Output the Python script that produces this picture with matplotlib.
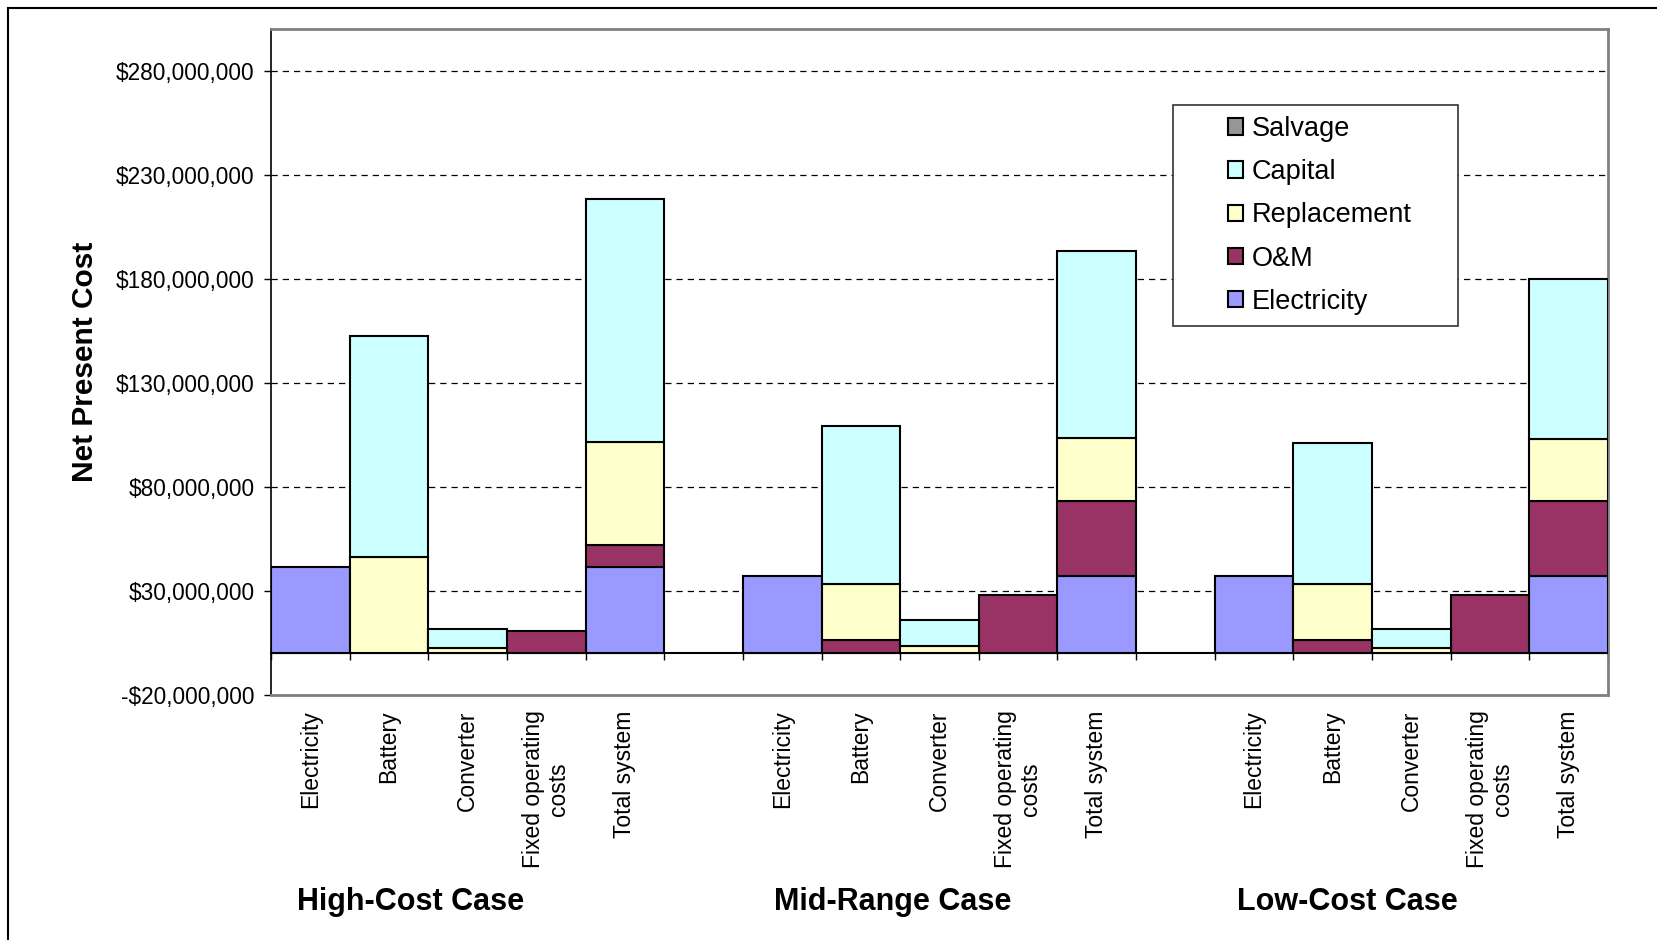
import matplotlib
matplotlib.use('Agg')
import matplotlib.pyplot as plt
from matplotlib.patches import Patch, Rectangle
from matplotlib.ticker import FuncFormatter
import numpy as np

plt.rcParams['font.family'] = ['Liberation Sans', 'DejaVu Sans']

# categorieen en cases
items = ['Electricity', 'Battery', 'Converter', 'Fixed operating\ncosts', 'Total system']
cases = ['High-Cost Case', 'Mid-Range Case', 'Low-Cost Case']

# waarden in miljoen dollar, per case: Electricity, Battery, Converter, Fixed, Total
electricity = [41.3, 0, 0, 0, 41.3,   37.1, 0, 0, 0, 37.1,   37.1, 0, 0, 0, 37.1]
om          = [0, 0, 0, 10.8, 11.0,   0, 6.6, 0, 28.1, 36.3,  0, 6.6, 0, 28.1, 36.3]
replacement = [0, 46.2, 2.6, 0, 49.4, 0, 26.5, 3.7, 0, 30.2,  0, 26.5, 2.4, 0, 29.4]
capital     = [0, 106.3, 9.1, 0, 116.8, 0, 76.1, 12.2, 0, 89.6, 0, 67.8, 9.3, 0, 77.1]
salvage     = [0] * 15

series = [('Electricity', electricity, '#9999FF'),
          ('O&M', om, '#993366'),
          ('Replacement', replacement, '#FFFFCC'),
          ('Capital', capital, '#CCFFFF'),
          ('Salvage', salvage, '#969696')]

yticks = [-20e6, 30e6, 80e6, 130e6, 180e6, 230e6, 280e6]
ylim = (-20e6, 300e6)

# posities: een lege plek tussen de cases
pos = []
labels = []
for c in range(len(cases)):
  for j in range(len(items)):
    pos.append(c * (len(items) + 1) + j)
    labels.append(items[j])
pos = np.array(pos)

W, H = 1658, 940
fig = plt.figure(figsize=(W / 100, H / 100), dpi=100)
ax = fig.add_axes([271 / W, 1 - 695 / H, (1608 - 271) / W, (695 - 29) / H])

bottom = np.zeros(len(pos))
for naam, waarden, kleur in series:
  waarden = np.array(waarden, dtype=float) * 1e6
  m = waarden != 0
  if m.any():
    ax.bar(pos[m], waarden[m], bottom=bottom[m], width=1.0, color=kleur,
           edgecolor='black', linewidth=1.5, zorder=3)
  bottom += waarden

ax.set_xlim(pos[0] - 0.5, pos[-1] + 0.5)
ax.set_ylim(*ylim)
ax.set_yticks(yticks)

def dollars(v, p):
  s = '${:,.0f}'.format(abs(v))
  return '-' + s if v < 0 else s

ax.yaxis.set_major_formatter(FuncFormatter(dollars))
ax.tick_params(axis='y', length=5, width=1, direction='out', pad=7, labelsize=16.3)
ax.yaxis.grid(True, linestyle=(0, (5, 4)), color='black', linewidth=0.9)
ax.set_axisbelow(True)

ax.set_xticks(pos)
ax.set_xticklabels(labels, rotation=90, fontsize=16.5, linespacing=1.1)
ax.tick_params(axis='x', length=0, pad=11)

for s in ['top', 'right', 'bottom']:
  ax.spines[s].set_color('#808080')
  ax.spines[s].set_linewidth(2)
ax.spines['left'].set_color('black')
ax.spines['left'].set_linewidth(1.2)

# categorie-as op nul met streepjes tussen de categorieen
nul = (0 - ylim[0]) / (ylim[1] - ylim[0])
sec = ax.secondary_xaxis(nul)
sec.set_xticks(np.arange(pos[0] - 0.5, pos[-1] + 1, 1.0))
sec.tick_params(length=5, width=1, direction='out', labelbottom=False)
sec.spines['bottom'].set_color('black')
sec.spines['bottom'].set_linewidth(1.5)

fig.text(85 / W, 1 - 362 / H, 'Net Present Cost', rotation=90, ha='center', va='center',
         fontsize=21.5, fontweight='bold')

groepX = [411, 893, 1347]
for naam, gx in zip(cases, groepX):
  fig.text(gx / W, 1 - 902 / H, naam, ha='center', va='center', fontsize=22, fontweight='bold')

# legenda met eigen kader
fig.add_artist(Rectangle((1173 / W, 1 - 326 / H), (1458 - 1173) / W, (326 - 105) / H,
                         transform=fig.transFigure, facecolor='white', edgecolor='#333333',
                         linewidth=1.2, zorder=4))
handles = [Patch(facecolor=k, edgecolor='black', linewidth=1.5, label=n) for n, v, k in series[::-1]]
fig.legend(handles=handles, loc='upper left', bbox_to_anchor=(1228 / W, 1 - 116 / H),
           bbox_transform=fig.transFigure, frameon=False, fontsize=19.5, borderpad=0,
           borderaxespad=0, handlelength=0.55, handleheight=0.55, handletextpad=0.32,
           labelspacing=0.635)

fig.add_artist(Rectangle((8 / W, -0.5), 2, 0.5 + 1 - 8 / H, transform=fig.transFigure,
                         fill=False, edgecolor='black', linewidth=1.5))

fig.savefig('out.png', dpi=100)
